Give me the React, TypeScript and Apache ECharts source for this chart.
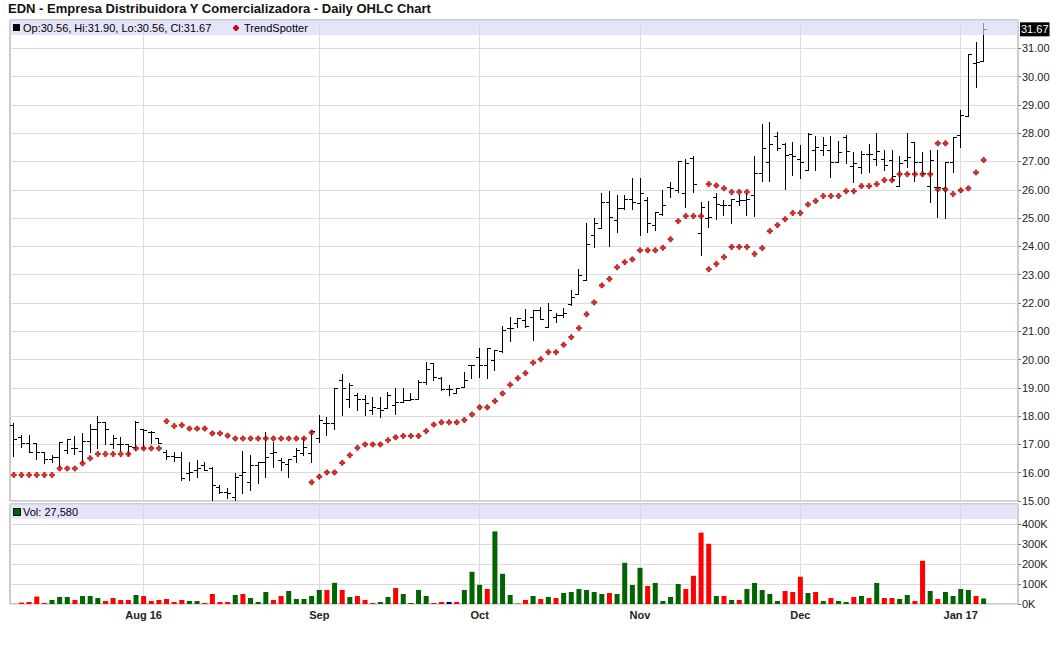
import React, { useEffect, useRef } from "react";
import * as echarts from "echarts";

const FONT = "'Liberation Sans', Arial, sans-serif";
const TITLE = "EDN - Empresa Distribuidora Y Comercializadora - Daily OHLC Chart";

// trading days per month (categories)
const tradingDays: [string, number[]][] = [
  ["2016-07", [7, 8, 11, 12, 13, 14, 15, 18, 19, 20, 21, 22, 25, 26, 27, 28, 29]],
  ["2016-08", [1, 2, 3, 4, 5, 8, 9, 10, 11, 12, 15, 16, 17, 18, 19, 22, 23, 24, 25, 26, 29, 30, 31]],
  ["2016-09", [1, 2, 6, 7, 8, 9, 12, 13, 14, 15, 16, 19, 20, 21, 22, 23, 26, 27, 28, 29, 30]],
  ["2016-10", [3, 4, 5, 6, 7, 10, 11, 12, 13, 14, 17, 18, 19, 20, 21, 24, 25, 26, 27, 28, 31]],
  ["2016-11", [1, 2, 3, 4, 7, 8, 9, 10, 11, 14, 15, 16, 17, 18, 21, 22, 23, 25, 28, 29, 30]],
  ["2016-12", [1, 2, 5, 6, 7, 8, 9, 12, 13, 14, 15, 16, 19, 20, 21, 22, 23, 27, 28, 29, 30]],
  ["2017-01", [3, 4, 5, 6]],
];
const padDates = ["2017-01-09", "2017-01-10", "2017-01-11", "2017-01-12"];

const monthLabels: Record<string, string> = {
  "2016-08-01": "Aug 16",
  "2016-09-01": "Sep",
  "2016-10-03": "Oct",
  "2016-11-01": "Nov",
  "2016-12-01": "Dec",
  "2017-01-03": "Jan 17",
};

const opens = [
  17.67, 17.25, 17.04, 17.06, 16.74, 16.47, 16.56, 16.82, 16.89, 16.78,
  17.13, 17.53, 17.80, 17.00, 17.01, 17.01, 16.92, 17.53, 17.45, 17.21,
  16.74, 16.60, 16.54, 15.98, 16.09, 16.27, 16.15, 15.48, 15.33, 15.15,
  15.92, 15.68, 16.27, 16.39, 16.71, 16.45, 16.31, 16.59, 16.68, 16.71,
  17.21, 17.74, 17.74, 19.27, 18.62, 18.74, 18.62, 18.21, 18.27, 18.27,
  18.39, 18.51, 18.56, 18.62, 19.21, 19.86, 19.33, 18.95, 18.80, 19.03,
  19.80, 20.09, 19.80, 19.98, 20.30, 21.10, 21.28, 21.40, 21.50, 21.75,
  21.16, 21.52, 21.58, 21.96, 22.32, 22.81, 24.40, 24.64, 25.58, 24.93,
  25.34, 25.69, 25.52, 25.64, 24.75, 25.14, 26.10, 26.00, 25.87, 27.14,
  24.46, 25.00, 25.73, 25.46, 25.46, 25.61, 25.64, 25.81, 26.58, 26.99,
  27.90, 27.61, 27.28, 27.07, 26.70, 27.40, 27.40, 27.40, 26.99, 27.85,
  26.85, 26.81, 27.28, 27.10, 27.10, 27.04, 26.13, 27.05, 27.69, 26.99,
  26.13, 26.11, 26.05, 26.99, 27.93, 28.60, 30.48, 30.56,
];
const highs = [
  17.76, 17.33, 17.33, 17.06, 16.74, 16.62, 17.07, 17.18, 17.29, 17.41,
  17.72, 18.00, 17.80, 17.33, 17.27, 17.01, 17.84, 17.55, 17.48, 17.21,
  16.80, 16.74, 16.74, 16.39, 16.45, 16.39, 16.21, 15.56, 15.45, 15.98,
  16.76, 16.62, 16.39, 17.45, 17.09, 16.51, 16.47, 16.86, 17.21, 17.50,
  18.04, 17.98, 18.98, 19.50, 19.18, 18.80, 18.74, 18.68, 18.68, 18.86,
  18.98, 18.98, 18.80, 19.27, 19.92, 19.86, 19.39, 19.09, 18.98, 19.56,
  19.80, 20.39, 20.39, 20.33, 21.19, 21.52, 21.46, 21.78, 21.75, 21.87,
  22.00, 21.66, 21.81, 22.47, 23.19, 24.81, 25.00, 25.87, 25.95, 25.80,
  25.80, 26.40, 26.40, 25.75, 25.22, 26.00, 26.28, 27.00, 27.10, 27.20,
  25.58, 25.61, 25.87, 25.64, 25.69, 25.81, 25.90, 27.19, 28.34, 28.39,
  28.05, 27.64, 27.70, 27.58, 27.99, 27.90, 27.85, 27.90, 27.73, 27.93,
  27.34, 27.38, 27.61, 28.00, 27.40, 27.40, 27.19, 28.01, 27.69, 27.34,
  27.40, 27.42, 26.99, 27.85, 28.81, 30.81, 31.22, 31.90,
];
const lows = [
  16.59, 16.92, 16.72, 16.47, 16.33, 16.39, 16.21, 16.68, 16.66, 16.39,
  16.74, 16.86, 17.00, 16.86, 16.80, 16.62, 16.80, 16.86, 17.04, 17.04,
  16.50, 16.40, 15.74, 15.74, 15.84, 16.09, 15.04, 15.27, 15.09, 15.04,
  15.27, 15.39, 15.62, 15.86, 16.21, 16.09, 15.84, 16.39, 16.62, 16.39,
  17.09, 17.33, 17.56, 18.04, 18.33, 18.21, 18.04, 18.09, 17.98, 18.27,
  18.09, 18.51, 18.56, 18.62, 19.15, 19.27, 18.92, 18.74, 18.80, 19.03,
  19.33, 19.39, 19.33, 19.62, 20.28, 20.67, 21.16, 21.16, 20.70, 21.42,
  21.16, 21.34, 21.52, 21.92, 22.30, 22.81, 23.96, 24.64, 24.00, 24.52,
  25.31, 25.31, 24.40, 24.52, 24.58, 25.11, 25.75, 25.93, 25.40, 25.93,
  23.70, 24.70, 24.95, 25.11, 24.81, 25.46, 25.11, 25.07, 26.32, 26.32,
  27.40, 26.02, 26.52, 26.40, 26.70, 26.70, 27.22, 26.44, 26.99, 26.93,
  26.28, 26.58, 26.64, 26.87, 26.69, 26.34, 26.13, 26.81, 26.32, 26.52,
  25.58, 25.05, 24.99, 26.64, 27.52, 28.60, 29.64, 30.56,
];
const closes = [
  17.18, 17.04, 16.72, 16.74, 16.47, 16.56, 17.07, 17.18, 16.89, 17.13,
  17.53, 17.80, 17.53, 17.21, 17.01, 16.95, 17.80, 17.51, 17.45, 17.04,
  16.60, 16.54, 15.80, 16.04, 16.15, 16.09, 15.56, 15.33, 15.27, 15.86,
  16.04, 16.27, 16.39, 16.56, 16.74, 16.39, 16.47, 16.80, 16.92, 17.48,
  17.86, 17.74, 18.98, 18.98, 19.09, 18.59, 18.45, 18.31, 18.21, 18.74,
  18.51, 18.56, 18.62, 19.21, 19.68, 19.39, 18.95, 18.95, 18.98, 19.27,
  19.80, 19.80, 20.39, 20.33, 21.05, 21.10, 21.46, 21.19, 21.75, 21.42,
  21.75, 21.58, 21.64, 22.22, 22.99, 24.08, 24.84, 25.58, 25.02, 25.34,
  25.69, 25.58, 25.87, 24.81, 25.22, 25.46, 26.08, 27.00, 26.93, 26.20,
  25.40, 25.02, 25.49, 25.46, 25.66, 25.64, 25.69, 26.58, 27.49, 27.61,
  27.46, 27.22, 27.19, 26.99, 27.96, 27.52, 27.58, 26.99, 27.32, 27.36,
  26.96, 27.28, 27.28, 27.36, 26.87, 26.48, 26.93, 27.16, 26.99, 26.60,
  27.05, 26.11, 26.99, 27.85, 28.64, 30.79, 30.52, 31.67,
];

// TrendSpotter markers below price
const trendLow: (number | null)[] = [
  15.92, 15.92, 15.92, 15.92, 15.92, 15.92, 16.15, 16.15, 16.15, 16.33,
  16.51, 16.66, 16.66, 16.66, 16.66, 16.66, 16.86, 16.86, 16.86, 16.86,
  null, null, null, null, null, null, null, null, null, null,
  null, null, null, null, null, null, null, null, null, 15.66,
  15.86, 16.01, 16.01, 16.35, 16.62, 16.88, 17.0, 17.0, 17.0, 17.15,
  17.25, 17.3, 17.3, 17.3, 17.47, 17.7, 17.78, 17.78, 17.78, 17.86,
  18.06, 18.31, 18.31, 18.53, 18.8, 19.11, 19.34, 19.52, 19.89, 20.01,
  20.26, 20.26, 20.52, 20.79, 21.11, 21.6, 22.02, 22.62, 22.85, 23.26,
  23.44, 23.54, 23.86, 23.86, 23.86, 23.95, 24.25, 24.89, 25.07, 25.07,
  25.07, 23.19, 23.38, 23.62, 23.98, 23.98, 23.98, 23.73, 23.94, 24.54,
  24.75, 24.96, 25.18, 25.18, 25.48, 25.6, 25.78, 25.78, 25.78, 25.95,
  25.95, 26.13, 26.13, 26.2, 26.34, 26.34, 26.55, 26.55, 26.55, 26.55,
  26.55, 26.01, 26.01, 25.85, 25.98, 26.05, 26.61, 27.05,
];
// TrendSpotter markers above price
const trendHigh: (number | null)[] = [
  null, null, null, null, null, null, null, null, null, null,
  null, null, null, null, null, null, null, null, null, null,
  17.82, 17.65, 17.68, 17.56, 17.56, 17.56, 17.39, 17.39, 17.31, 17.21,
  17.21, 17.21, 17.21, 17.21, 17.21, 17.21, 17.21, 17.21, 17.21, 17.42,
  null, null, null, null, null, null, null, null, null, null,
  null, null, null, null, null, null, null, null, null, null,
  null, null, null, null, null, null, null, null, null, null,
  null, null, null, null, null, null, null, null, null, null,
  null, null, null, null, null, null, null, null, null, null,
  null, 26.2, 26.15, 26.05, 25.92, 25.92, 25.92, null, null, null,
  null, null, null, null, null, null, null, null, null, null,
  null, null, null, null, null, null, null, null, null, null,
  null, 27.64, 27.64, null, null, null, null, null,
];

// volume in thousands
const volumeK: (number | null)[] = [
  null, 7, 10, 37, 5, 20, 35, 35, 20, 40,
  40, 30, 15, 30, 20, 20, 45, 40, 15, 20,
  25, 10, 20, 15, 15, 5, 50, 10, 10, 45,
  50, 30, 10, 60, 20, 40, 65, 25, 25, 40,
  70, 70, 106, 70, 35, 40, 20, 5, 10, 35,
  80, 50, 5, 70, 40, 5, 10, 10, 10, 70,
  161, 96, 75, 363, 151, 45, 2, 20, 40, 25,
  35, 30, 55, 60, 75, 70, 60, 50, 55, 50,
  206, 95, 181, 90, 105, 15, 35, 100, 75, 141,
  357, 301, 40, 40, 20, 20, 75, 105, 70, 50,
  15, 65, 60, 136, 55, 60, 15, 30, 15, 10,
  35, 40, 30, 105, 30, 30, 25, 45, 15, 216,
  65, 25, 60, 40, 75, 70, 40, 27.58,
];
// volume bar colour per day: g = up, r = down, b = unchanged
const volumeDir = (
  "-rrrrgggrg" + "ggrrrrgrrr" + "rrrggrrrrg" + "rgggrrgggg" + "grgrgrrrgg" +
  "rggggrrbrg" + "ggrggggrgr" + "grggggggrg" + "gggrggggrr" + "rrgrgrgggg" +
  "grrrgrgrgg" + "rgrgrrggrr" + "grggggrg"
).split("");

const dates: string[] = tradingDays.flatMap(([m, ds]) =>
  ds.map((d) => `${m}-${String(d).padStart(2, "0")}`)
);
const categories = [...dates, ...padDates];
const labelIdx = new Set(
  categories.map((c, i) => (monthLabels[c] ? i : -1)).filter((i) => i >= 0)
);

const GRID_C = "#dcdcdc";
const FRAME_C = "#999";
const BAND_FILL = "rgba(215,215,248,0.65)";
const DIR_COLORS: Record<string, string> = { g: "#006400", r: "#ff0000", b: "#000080" };
const PLUS = "path://M1,0L2,0L2,1L3,1L3,2L2,2L2,3L1,3L1,2L0,2L0,1L1,1Z";

const P = { left: 10, top: 20, width: 1008, height: 481 };
const V = { left: 10, top: 504, width: 1008, height: 100 };

export default function App() {
  const ref = useRef<HTMLDivElement>(null);
  useEffect(() => {
    const chart = echarts.init(ref.current!, null, { renderer: "svg" });
    const n = closes.length;
    const last = n - 1;
    const lastClose = closes[last];
    const legendText = `Op:${opens[last].toFixed(2)}, Hi:${highs[last].toFixed(2)}, Lo:${lows[last].toFixed(2)}, Cl:${closes[last].toFixed(2)}`;
    const volText = `Vol: ${Math.round((volumeK[last] as number) * 1000).toLocaleString("en-US")}`;

    const ohlcData = opens.map((o, i) => [i, o, highs[i], lows[i], closes[i]]);
    const isLbl = (idx: number) => labelIdx.has(idx);
    const markerStyle = { color: "#ee0000", borderColor: "#880000", borderWidth: 0.8 };

    const option: any = {
      animation: false,
      textStyle: { fontFamily: FONT },
      grid: [
        { left: P.left, top: P.top, width: P.width, height: P.height, show: true, borderColor: FRAME_C, borderWidth: 1, backgroundColor: "transparent" },
        { left: V.left, top: V.top, width: V.width, height: V.height, show: true, borderColor: FRAME_C, borderWidth: 1, backgroundColor: "transparent" },
      ],
      xAxis: [
        {
          type: "category", gridIndex: 0, data: categories, boundaryGap: true,
          axisLine: { show: false }, axisLabel: { show: false },
          axisTick: { show: true, interval: isLbl, alignWithLabel: true, inside: true, length: P.height, lineStyle: { color: GRID_C, width: 1 } },
          splitLine: { show: false },
        },
        {
          type: "category", gridIndex: 1, data: categories, boundaryGap: true,
          axisLine: { show: false },
          axisTick: { show: true, interval: isLbl, alignWithLabel: true, inside: true, length: V.height, lineStyle: { color: GRID_C, width: 1 } },
          axisLabel: {
            show: true, interval: isLbl, margin: 5,
            formatter: (v: string) => monthLabels[v] || "",
            fontFamily: FONT, fontSize: 11, fontWeight: "bold", color: "#222",
          },
          splitLine: { show: false },
        },
      ],
      yAxis: [
        {
          type: "value", gridIndex: 0, position: "right", min: 15, max: 32, interval: 1,
          axisLine: { show: false },
          axisTick: { show: true, length: 3, lineStyle: { color: "#777" } },
          axisLabel: { margin: 4, fontFamily: FONT, fontSize: 11, color: "#222", showMaxLabel: false, formatter: (v: number) => v.toFixed(2) },
          splitLine: { show: true, lineStyle: { color: GRID_C, width: 1 } },
        },
        {
          type: "value", gridIndex: 1, position: "right", min: 0, max: 500000, interval: 100000,
          axisLine: { show: false },
          axisTick: { show: true, length: 3, lineStyle: { color: "#777" } },
          axisLabel: { margin: 4, fontFamily: FONT, fontSize: 11, color: "#222", showMaxLabel: false, formatter: (v: number) => `${Math.round(v / 1000)}K` },
          splitLine: { show: true, lineStyle: { color: GRID_C, width: 1 } },
        },
      ],
      series: [
        {
          type: "custom", name: "OHLC", xAxisIndex: 0, yAxisIndex: 0,
          encode: { x: 0, y: [1, 2, 3, 4] },
          data: ohlcData,
          renderItem: (params: any, api: any) => {
            const i = api.value(0);
            const pH = api.coord([i, api.value(2)]);
            const pL = api.coord([i, api.value(3)]);
            const pO = api.coord([i, api.value(1)]);
            const pC = api.coord([i, api.value(4)]);
            const cx = Math.floor(pH[0]);
            const x = cx + 0.5;
            const yo = Math.round(pO[1]) + 0.5;
            const yc = Math.round(pC[1]) + 0.5;
            const st = { stroke: "#000", lineWidth: 1, fill: null };
            return {
              type: "group",
              children: [
                { type: "line", shape: { x1: x, y1: Math.round(pH[1]), x2: x, y2: Math.round(pL[1]) + 1 }, style: st },
                { type: "line", shape: { x1: cx - 3, y1: yo, x2: cx + 1, y2: yo }, style: st },
                { type: "line", shape: { x1: cx, y1: yc, x2: cx + 4, y2: yc }, style: st },
              ],
            };
          },
        },
        {
          type: "scatter", name: "TrendSpotter", xAxisIndex: 0, yAxisIndex: 0,
          symbol: PLUS, symbolSize: 5,
          itemStyle: markerStyle,
          data: trendLow.map((v) => (v == null ? "-" : v)),
          silent: true,
        },
        {
          type: "scatter", name: "TrendSpotter2", xAxisIndex: 0, yAxisIndex: 0,
          symbol: PLUS, symbolSize: 5,
          itemStyle: markerStyle,
          data: trendHigh.map((v) => (v == null ? "-" : v)),
          silent: true,
          markLine: {
            silent: true, symbol: ["none", "none"], animation: false,
            lineStyle: { color: "rgba(0,0,0,0)", width: 0 },
            label: {
              show: true, position: "end", distance: 2,
              formatter: () => lastClose.toFixed(2),
              color: "#fff", backgroundColor: "#000", padding: [2, 1, 1, 1],
              fontSize: 11, fontFamily: FONT,
            },
            data: [{ yAxis: lastClose }],
          },
        },
        {
          type: "bar", name: "Volume", xAxisIndex: 1, yAxisIndex: 1, barWidth: 5,
          data: volumeK.map((v, i) =>
            v == null ? "-" : { value: v * 1000, itemStyle: { color: DIR_COLORS[volumeDir[i]] || "#006400" } }
          ),
          silent: true,
        },
      ],
      graphic: [
        { type: "text", x: 8, y: 2, z: 20, style: { text: TITLE, font: `bold 13px ${FONT}`, fill: "#111" } },
        { type: "rect", z: 15, silent: true, shape: { x: P.left, y: P.top, width: P.width, height: 15 }, style: { fill: BAND_FILL } },
        { type: "rect", z: 20, silent: true, shape: { x: 13, y: 24, width: 7, height: 7 }, style: { fill: "#000" } },
        { type: "text", z: 20, x: 23, y: 28, style: { text: legendText, font: `11px ${FONT}`, fill: "#000", textVerticalAlign: "middle", verticalAlign: "middle" } },
        {
          type: "polygon", z: 20, silent: true,
          shape: { points: [[235, 25.5], [237, 25.5], [237, 27], [238.5, 27], [238.5, 29], [237, 29], [237, 30.5], [235, 30.5], [235, 29], [233.5, 29], [233.5, 27], [235, 27]] },
          style: { fill: "#ee0000", stroke: "#880000", lineWidth: 0.8 },
        },
        { type: "text", z: 20, x: 244, y: 28, style: { text: "TrendSpotter", font: `11px ${FONT}`, fill: "#000", textVerticalAlign: "middle", verticalAlign: "middle" } },
        { type: "rect", z: 15, silent: true, shape: { x: V.left, y: V.top, width: V.width, height: 15 }, style: { fill: BAND_FILL } },
        { type: "rect", z: 20, silent: true, shape: { x: 13.5, y: 508.5, width: 7, height: 7 }, style: { fill: "#006400", stroke: "#000", lineWidth: 1 } },
        { type: "text", z: 20, x: 23, y: 512, style: { text: volText, font: `11px ${FONT}`, fill: "#000", textVerticalAlign: "middle", verticalAlign: "middle" } },
      ],
    };
    chart.setOption(option);
    return () => chart.dispose();
  }, []);
  return (
    <div
      ref={ref}
      style={{ position: "fixed", left: 0, top: 0, width: 1060, height: 645, background: "#fff" }}
    />
  );
}
